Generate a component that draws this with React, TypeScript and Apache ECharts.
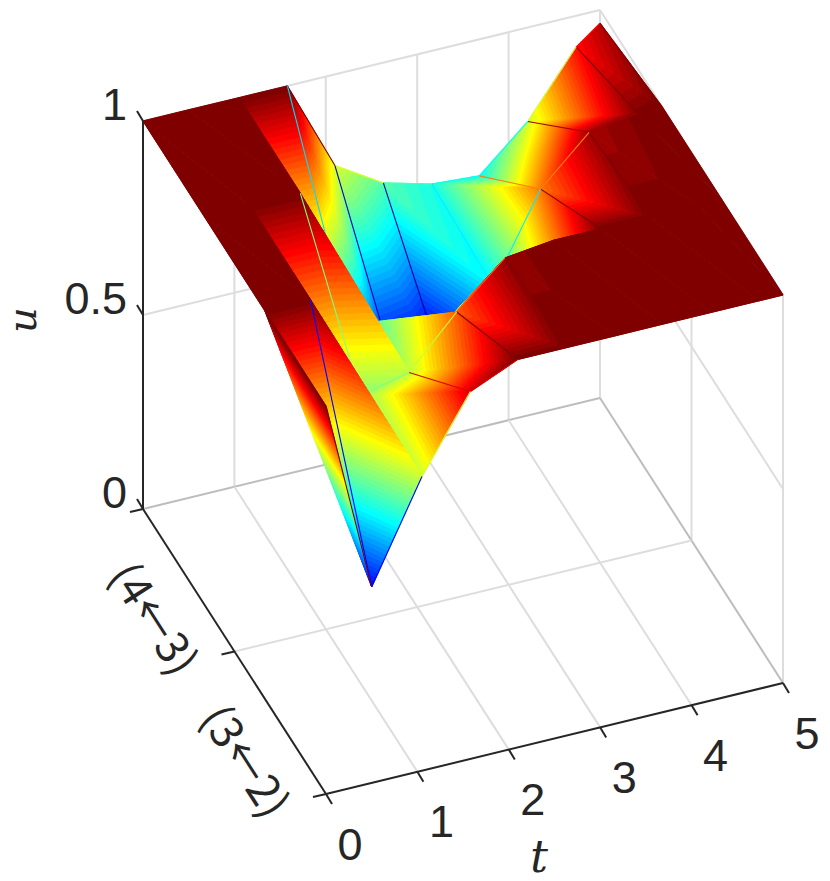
import React, { useEffect, useRef } from "react";
import * as echarts from "echarts";

// Surface grid
const tValues = [0, 0.5, 1.05, 1.58, 2.1, 2.63, 3.16, 3.68, 4.21, 4.74, 5];
const sValues = [0, 0.67, 1.33, 2];
const uRow0 = [1, 1, 1, 1, 0.765, 0.69, 0.657, 0.648, 0.758, 0.92, 0.966];
const uRow1 = [1, 1, 1, 0.63, 0.47, 0.45, 0.64, 0.86, 0.976, 0.995, 1];
const uRow2 = [1, 1, 0.72, 0.75, 0.876, 0.985, 1, 1, 1, 1, 1];
const uRow3 = [1, 0.505, 0.758, 0.947, 1, 1, 1, 1, 1, 1, 1];
const uRows = [uRow0, uRow1, uRow2, uRow3];

// Axes
const tTicks = [0, 1, 2, 3, 4, 5];
const tTickLabels = ["0", "1", "2", "3", "4", "5"];
const sTicks = [0, 1, 2];
const sTickLabels = ["", "(4\u21903)", "(3\u21902)"];
const uTicks = [0, 0.5, 1];
const uTickLabels = ["0", "0.5", "1"];
const tMax = 5;
const sMax = 2;
const uMax = 1;
const colorMin = 0.44;
const colorMax = 1;

// Orthographic view of the 3-D box
const ORIGIN = [143, 509];
const T_VEC = [91.4, -22.2];
const S_VEC = [91.5, 142.5];
const U_VEC = [0, -388];
const project = (t: number, s: number, u: number) => [
  ORIGIN[0] + T_VEC[0] * t + S_VEC[0] * s + U_VEC[0] * u,
  ORIGIN[1] + T_VEC[1] * t + S_VEC[1] * s + U_VEC[1] * u,
];

const jetIndex = (u: number) => {
  const f = (u - colorMin) / (colorMax - colorMin);
  return Math.max(0, Math.min(63, Math.floor(f * 64)));
};
const jetColor = (idx: number) => {
  const x = (idx + 1) / 64;
  const ch = (v: number) => Math.round(255 * Math.max(0, Math.min(1, v)));
  const r = ch(1.5 - Math.abs(4 * x - 3));
  const g = ch(1.5 - Math.abs(4 * x - 2));
  const b = ch(1.5 - Math.abs(4 * x - 1));
  return `rgb(${r},${g},${b})`;
};

type V3 = number[];
const clip = (poly: V3[], level: number, keepAbove: boolean) => {
  const out: V3[] = [];
  for (let i = 0; i < poly.length; i++) {
    const a = poly[i];
    const b = poly[(i + 1) % poly.length];
    const ina = keepAbove ? a[2] >= level : a[2] <= level;
    const inb = keepAbove ? b[2] >= level : b[2] <= level;
    if (ina) out.push(a);
    if (ina !== inb) {
      const k = (level - a[2]) / (b[2] - a[2]);
      out.push([a[0] + (b[0] - a[0]) * k, a[1] + (b[1] - a[1]) * k, level]);
    }
  }
  return out;
};

const frontFacing = (a: V3, b: V3, c: V3) => {
  const pa = project(a[0], a[1], a[2]);
  const pb = project(b[0], b[1], b[2]);
  const pc = project(c[0], c[1], c[2]);
  return (pb[0] - pa[0]) * (pc[1] - pa[1]) - (pb[1] - pa[1]) * (pc[0] - pa[0]) > 0;
};

type Mark = { pts: V3[]; color: string; line: boolean };
const buildMarks = () => {
  const marks: Mark[] = [];
  const V = (i: number, j: number): V3 => [tValues[i], sValues[j], uRows[j][i]];
  const addTri = (a: V3, b: V3, c: V3) => {
    const us = [a[2], b[2], c[2]];
    const lo = jetIndex(Math.min(...us));
    const hi = jetIndex(Math.max(...us));
    const step = (colorMax - colorMin) / 64;
    for (let k = lo; k <= hi; k++) {
      let poly: V3[] = [a, b, c];
      if (k > lo) poly = clip(poly, colorMin + k * step, true);
      if (k < hi) poly = clip(poly, colorMin + (k + 1) * step, false);
      if (poly.length >= 3) marks.push({ pts: poly, color: jetColor(k), line: false });
    }
  };
  const addEdge = (from: V3, to: V3) => {
    marks.push({ pts: [from, to], color: jetColor(jetIndex(to[2])), line: true });
  };
  const nT = tValues.length;
  const nS = sValues.length;
  for (let j = 0; j < nS - 1; j++) {
    for (let i = nT - 2; i >= 0; i--) {
      addTri(V(i, j), V(i + 1, j), V(i + 1, j + 1));
      addTri(V(i, j), V(i + 1, j + 1), V(i, j + 1));
      // edges bordering a fold that is turned away are hidden by the fold's other half
      if (frontFacing(V(i, j), V(i + 1, j), V(i + 1, j + 1))) {
        addEdge(V(i + 1, j), V(i + 1, j + 1));
        addEdge(V(i + 1, j), V(i, j));
      }
      if (i === 0) addEdge(V(0, j), V(0, j + 1));
    }
  }
  for (let i = nT - 2; i >= 0; i--) addEdge(V(i + 1, nS - 1), V(i, nS - 1));
  return marks;
};

type Seg = { a: V3; b: V3; color: string; width: number };
const GRID_LIGHT = "#dddddd";
const GRID_DARK = "#bdbdbd";
const buildGrid = () => {
  const segs: Seg[] = [];
  const add = (a: V3, b: V3, dark = false) =>
    segs.push({ a, b, color: dark ? GRID_DARK : GRID_LIGHT, width: 2 });
  // back wall (s = 0)
  tTicks.slice(1).forEach((t) => add([t, 0, 0], [t, 0, uMax]));
  uTicks.forEach((u) => add([0, 0, u], [tMax, 0, u], u === 0));
  // side wall (t = tMax)
  sTicks.slice(1).forEach((s) => add([tMax, s, 0], [tMax, s, uMax]));
  uTicks.forEach((u) => add([tMax, 0, u], [tMax, sMax, u], u === 0));
  // floor
  tTicks.slice(1, -1).forEach((t) => add([t, 0, 0], [t, sMax, 0]));
  sTicks.slice(1, -1).forEach((s) => add([0, s, 0], [tMax, s, 0]));
  return segs;
};

const INK = "#262626";
const buildAxisLines = () => {
  const lines: number[][][] = [];
  lines.push([project(0, 0, 0), project(0, sMax, 0)]);
  lines.push([project(0, sMax, 0), project(tMax, sMax, 0)]);
  lines.push([project(0, 0, 0), project(0, 0, uMax)]);
  const off = (p: number[], dx: number, dy: number) => [p[0] + dx, p[1] + dy];
  tTicks.forEach((t) => {
    const p = project(t, sMax, 0);
    lines.push([p, off(p, 6, 10)]);
  });
  sTicks.forEach((s) => {
    const p = project(0, s, 0);
    lines.push([p, off(p, -13, 3)]);
  });
  uTicks.forEach((u) => {
    const p = project(0, 0, u);
    lines.push([p, off(p, -6, -10)]);
  });
  return lines;
};

type Lab = {
  text: string;
  x: number;
  y: number;
  rotation: number;
  align: string;
  family: string;
  style: string;
  size: number;
};
const SANS = '"Liberation Sans", Arial, sans-serif';
const CJK = '"Noto Sans CJK SC", "Liberation Sans", sans-serif';
const SERIF = '"DejaVu Serif", "Liberation Serif", serif';
const buildLabels = () => {
  const labs: Lab[] = [];
  tTicks.forEach((t, i) => {
    const p = project(t, sMax, 0);
    labs.push({ text: tTickLabels[i], x: p[0] + 24, y: p[1] + 50, rotation: 0, align: "center", family: SANS, style: "normal", size: 45 });
  });
  uTicks.forEach((u, i) => {
    const p = project(0, 0, u);
    labs.push({ text: uTickLabels[i], x: p[0] - 16, y: p[1] - 17, rotation: 0, align: "right", family: SANS, style: "normal", size: 45 });
  });
  sTicks.forEach((s, i) => {
    if (!sTickLabels[i]) return;
    const p = project(0, s, 0);
    labs.push({ text: sTickLabels[i], x: p[0] - 78, y: p[1] - 34.5, rotation: -1.0, align: "center", family: CJK, style: "normal", size: 44 });
  });
  labs.push({ text: "t", x: 539, y: 856, rotation: 0, align: "center", family: SERIF, style: "italic", size: 44 });
  labs.push({ text: "u", x: 22, y: 320, rotation: Math.PI / 2, align: "center", family: SERIF, style: "italic", size: 40 });
  return labs;
};

export default function App() {
  const ref = useRef<HTMLDivElement>(null);
  useEffect(() => {
    document.body.style.margin = "0";
    const chart = echarts.init(ref.current!, undefined, { renderer: "svg" });
    const marks = buildMarks();
    const grid = buildGrid();
    const axisLines = buildAxisLines();
    const labels = buildLabels();
    const rows = (n: number) => Array.from({ length: n }, (_, i) => [i, 0]);
    chart.setOption({
      animation: false,
      backgroundColor: "#ffffff",
      grid: { left: 0, right: 0, top: 0, bottom: 0 },
      xAxis: { type: "value", min: 0, max: 830, show: false },
      yAxis: { type: "value", min: 0, max: 881, inverse: true, show: false },
      series: [
        {
          type: "custom",
          silent: true,
          clip: false,
          z: 1,
          data: rows(grid.length),
          renderItem: (p: any, api: any) => {
            const g = grid[p.dataIndex];
            const a = api.coord(project(g.a[0], g.a[1], g.a[2]));
            const b = api.coord(project(g.b[0], g.b[1], g.b[2]));
            return {
              type: "line",
              shape: { x1: a[0], y1: a[1], x2: b[0], y2: b[1] },
              style: { stroke: g.color, lineWidth: g.width, fill: "none" },
            };
          },
        },
        {
          type: "custom",
          silent: true,
          clip: false,
          z: 2,
          data: rows(marks.length),
          renderItem: (p: any, api: any) => {
            const m = marks[p.dataIndex];
            const pts = m.pts.map((v) => api.coord(project(v[0], v[1], v[2])));
            if (m.line) {
              return {
                type: "line",
                shape: { x1: pts[0][0], y1: pts[0][1], x2: pts[1][0], y2: pts[1][1] },
                style: { stroke: m.color, lineWidth: 1.1, fill: "none" },
              };
            }
            return {
              type: "polygon",
              shape: { points: pts },
              style: { fill: m.color, stroke: m.color, lineWidth: 0.9 },
            };
          },
        },
        {
          type: "custom",
          silent: true,
          clip: false,
          z: 3,
          data: rows(axisLines.length),
          renderItem: (p: any, api: any) => {
            const l = axisLines[p.dataIndex];
            const a = api.coord(l[0]);
            const b = api.coord(l[1]);
            return {
              type: "line",
              shape: { x1: a[0], y1: a[1], x2: b[0], y2: b[1] },
              style: { stroke: INK, lineWidth: 2, fill: "none" },
            };
          },
        },
        {
          type: "custom",
          silent: true,
          clip: false,
          z: 4,
          data: rows(labels.length),
          renderItem: (p: any, api: any) => {
            const l = labels[p.dataIndex];
            const a = api.coord([l.x, l.y]);
            return {
              type: "text",
              x: a[0],
              y: a[1],
              rotation: l.rotation,
              style: {
                text: l.text,
                fill: INK,
                font: `${l.style} normal ${l.size}px ${l.family}`,
                align: l.align,
                verticalAlign: "middle",
              },
            };
          },
        },
      ],
    });
    return () => chart.dispose();
  }, []);
  return <div ref={ref} style={{ width: 830, height: 881, position: "absolute", left: 0, top: 0 }} />;
}
